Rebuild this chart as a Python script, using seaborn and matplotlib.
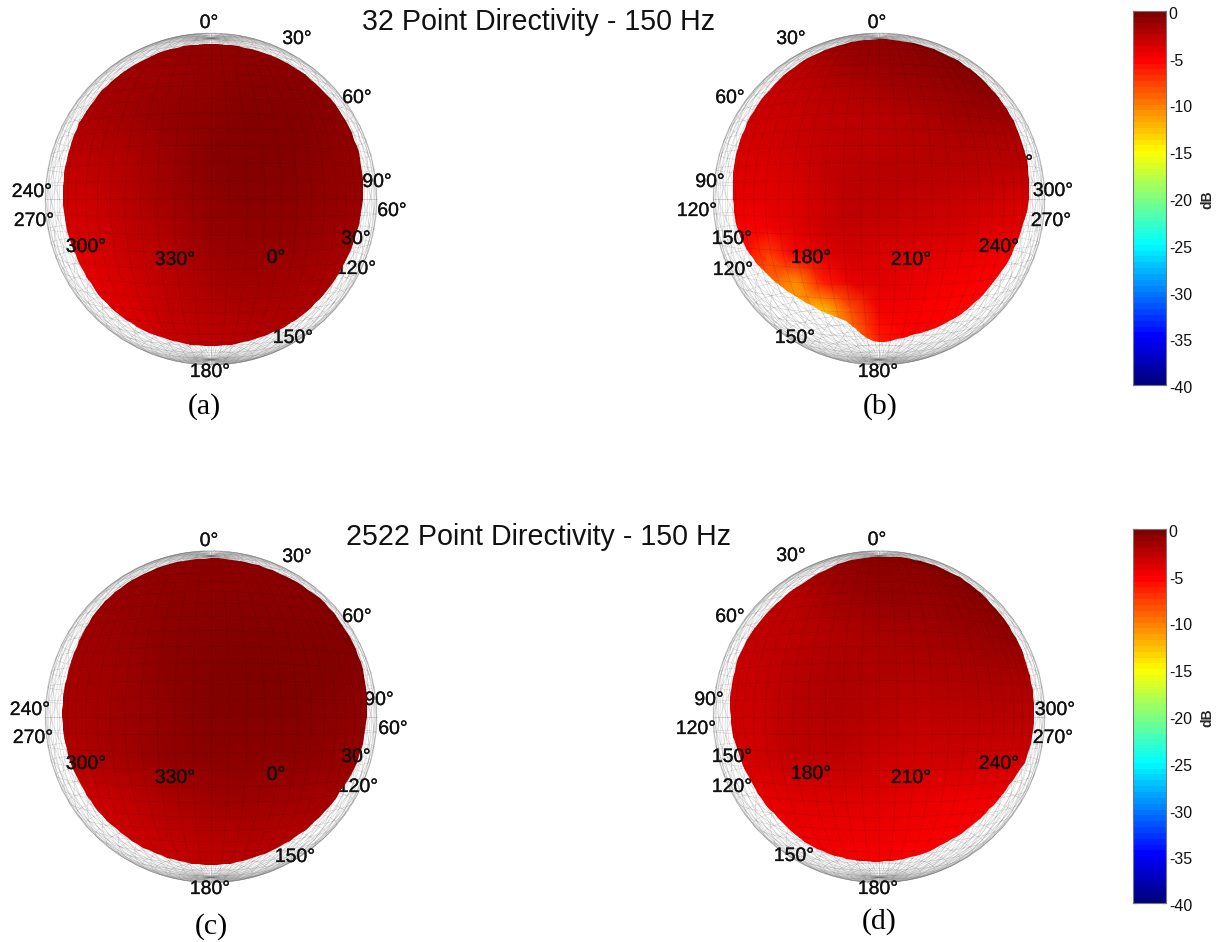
"""32 / 2522 point directivity balloons at 150 Hz, front and back views."""

import matplotlib
matplotlib.use("Agg")
import matplotlib.pyplot as plt
import matplotlib.patheffects as pe
from matplotlib.colors import LinearSegmentedColormap
from matplotlib.patches import Polygon
from matplotlib.transforms import ScaledTranslation
import numpy as np
import pandas as pd
import seaborn as sns

# balloon outline: radius as fraction of the wire sphere, every 15 deg clockwise from the top
outline_a = [.934, .935, .938, .940, .938, .930, .915, .900, .890, .890, .888, .885,
             .884, .885, .888, .888, .882, .885, .892, .900, .915, .925, .932, .934]
outline_b = [.962, .962, .958, .948, .936, .920, .902, .875, .859, .851, .849, .845,
             .862, .763, .759, .783, .825, .867, .878, .897, .916, .932, .946, .956]
outline_c = [.954, .955, .960, .968, .965, .955, .938, .925, .900, .890, .885, .890,
             .894, .890, .888, .885, .885, .890, .896, .900, .915, .940, .950, .953]
outline_d = [.964, .970, .970, .958, .952, .942, .934, .925, .880, .865, .860, .867,
             .873, .878, .877, .862, .862, .875, .894, .910, .920, .920, .925, .950]

# level in dB over the view, top row first
db_a = [[-1.5, -1.5, -1.2, -1.0, -0.8, -0.8, -0.7, -0.7, -0.7],
        [-1.6, -1.6, -1.4, -1.1, -0.8, -0.6, -0.6, -0.6, -0.7],
        [-1.9, -1.8, -1.4, -0.9, -0.5, -0.3, -0.3, -0.5, -0.8],
        [-2.6, -2.5, -1.9, -1.1, -0.4, -0.2, -0.3, -0.7, -1.0],
        [-3.1, -3.0, -2.3, -1.4, -0.7, -0.4, -0.6, -0.9, -1.2],
        [-3.7, -3.5, -2.8, -1.9, -1.0, -0.8, -0.9, -1.3, -1.6],
        [-4.4, -4.2, -3.4, -2.4, -1.6, -1.4, -1.5, -1.8, -2.0],
        [-4.5, -4.4, -3.8, -2.8, -2.2, -1.9, -2.0, -2.2, -2.3],
        [-4.5, -4.4, -3.9, -3.0, -2.5, -2.3, -2.3, -2.4, -2.4]]
db_b = [[-3.0, -3.0, -2.6, -2.2, -1.6, -1.0, -0.8, -0.6, -0.5, -0.4, -0.3, -0.3, -0.3],
        [-3.0, -3.0, -2.8, -2.4, -1.8, -1.2, -1.0, -0.8, -0.6, -0.3, -0.2, -0.3, -0.3],
        [-3.2, -3.2, -2.9, -2.7, -2.3, -2.0, -1.7, -1.4, -1.2, -0.9, -0.6, -0.7, -0.7],
        [-3.2, -3.2, -3.1, -2.9, -2.6, -2.4, -2.3, -2.1, -1.7, -1.4, -1.2, -1.2, -1.2],
        [-3.3, -3.3, -3.3, -3.1, -2.7, -2.5, -2.4, -2.3, -2.1, -2.0, -1.9, -1.9, -1.9],
        [-3.6, -3.6, -3.6, -3.3, -2.8, -2.5, -2.3, -2.2, -2.2, -2.3, -2.4, -2.5, -2.5],
        [-4.1, -4.1, -4.0, -3.6, -3.0, -2.5, -2.4, -2.6, -2.7, -2.9, -3.1, -3.3, -3.3],
        [-4.7, -4.7, -4.5, -3.9, -3.0, -2.8, -2.9, -3.0, -3.2, -3.4, -3.7, -3.9, -3.9],
        [-5.2, -5.2, -7.5, -4.8, -3.8, -3.4, -3.5, -3.6, -3.9, -4.1, -4.4, -4.6, -4.6],
        [-7.0, -7.0, -9.0, -10.5, -6.0, -4.2, -3.9, -4.2, -4.5, -4.8, -5.0, -5.0, -5.0],
        [-9.0, -9.0, -10.0, -11.0, -12.5, -8.0, -4.6, -4.6, -5.0, -5.2, -5.2, -5.2, -5.2],
        [-10.0, -10.0, -10.0, -11.0, -12.0, -10.0, -6.0, -5.0, -5.0, -5.2, -5.2, -5.2, -5.2],
        [-10.0, -10.0, -10.0, -11.0, -12.0, -10.0, -6.0, -5.0, -5.0, -5.2, -5.2, -5.2, -5.2]]
db_c = [[-1.0, -1.0, -0.9, -0.8, -0.7, -0.7, -0.7, -0.7, -0.7],
        [-1.2, -1.1, -1.0, -0.7, -0.6, -0.6, -0.5, -0.5, -0.6],
        [-1.4, -1.3, -1.0, -0.5, -0.4, -0.3, -0.3, -0.3, -0.5],
        [-1.6, -1.5, -1.1, -0.6, -0.3, -0.1, -0.1, -0.3, -0.5],
        [-1.8, -1.6, -1.2, -0.7, -0.3, -0.2, -0.3, -0.6, -0.8],
        [-2.2, -2.0, -1.5, -0.9, -0.6, -0.5, -0.6, -0.9, -1.2],
        [-3.4, -3.2, -2.6, -1.8, -1.3, -1.2, -1.4, -1.6, -1.7],
        [-3.6, -3.5, -3.2, -2.7, -2.3, -2.1, -2.2, -2.3, -2.3],
        [-3.6, -3.6, -3.4, -3.0, -2.6, -2.4, -2.3, -2.3, -2.3]]
db_d = [[-1.8, -1.8, -1.4, -0.9, -0.6, -0.6, -0.4, -0.3, -0.3],
        [-2.6, -2.6, -2.2, -1.4, -0.9, -0.8, -0.5, -0.3, -0.3],
        [-2.9, -2.8, -2.5, -1.9, -1.6, -1.5, -1.2, -0.9, -0.8],
        [-3.0, -2.9, -2.3, -1.8, -2.0, -2.0, -1.8, -1.7, -1.6],
        [-3.2, -3.0, -2.2, -1.9, -2.2, -2.6, -2.4, -2.2, -2.2],
        [-3.5, -3.3, -2.6, -2.5, -2.9, -3.2, -3.1, -3.2, -3.2],
        [-4.4, -4.3, -3.9, -3.7, -3.9, -4.2, -4.5, -4.4, -4.4],
        [-4.7, -4.6, -4.5, -4.4, -4.5, -4.8, -5.0, -4.9, -4.9],
        [-4.7, -4.7, -4.6, -4.6, -4.7, -5.0, -5.0, -5.0, -5.0]]

# angle labels: text, x, y in pixels, and whether the balloon covers it
labels_a = [("0°", 209, 22, 0), ("30°", 297, 38, 0), ("60°", 357, 97, 0), ("210°", 223, 165, 1),
            ("240°", 32, 191, 0), ("270°", 34, 220, 0), ("90°", 377, 181, 1), ("60°", 392, 210, 0),
            ("300°", 86, 246, 0), ("330°", 175, 259, 0), ("0°", 276, 257, 0), ("30°", 356, 238, 0),
            ("120°", 356, 268, 1), ("150°", 293, 337, 0), ("180°", 210, 371, 0)]
labels_b = [("0°", 877, 22, 0), ("30°", 791, 38, 0), ("60°", 730, 97, 0), ("90°", 710, 181, 0),
            ("120°", 697, 210, 0), ("150°", 732, 238, 0), ("120°", 733, 269, 0), ("180°", 811, 257, 0),
            ("210°", 911, 259, 0), ("240°", 999, 246, 0), ("300°", 1053, 190, 0), ("270°", 1051, 220, 0),
            ("150°", 795, 337, 0), ("180°", 878, 371, 0), ("330°", 1013, 162, 1)]
labels_c = [("0°", 209, 540, 0), ("30°", 297, 556, 0), ("60°", 357, 616, 0), ("210°", 223, 684, 1),
            ("240°", 30, 709, 0), ("270°", 33, 737, 0), ("90°", 379, 699, 1), ("60°", 393, 728, 0),
            ("300°", 86, 763, 0), ("330°", 175, 777, 0), ("0°", 276, 774, 0), ("30°", 356, 756, 0),
            ("120°", 358, 786, 1), ("150°", 295, 856, 0), ("180°", 210, 888, 0)]
labels_d = [("0°", 877, 539, 0), ("30°", 791, 555, 0), ("60°", 730, 616, 0), ("90°", 709, 699, 0),
            ("120°", 696, 728, 0), ("150°", 732, 756, 0), ("120°", 732, 786, 0), ("180°", 811, 773, 0),
            ("210°", 911, 777, 0), ("240°", 999, 763, 0), ("300°", 1055, 709, 0), ("270°", 1053, 737, 0),
            ("150°", 794, 855, 0), ("180°", 878, 888, 0)]

titles = ["32 Point Directivity - 150 Hz", "2522 Point Directivity - 150 Hz"]
captions = ["(a)", "(b)", "(c)", "(d)"]
cbar_ticks = [0, -5, -10, -15, -20, -25, -30, -35, -40]
grid_lat = np.arange(-85, 90, 5)
grid_lon = np.arange(0, 360, 5)

W, H = 1221, 942
R = 166
CAM = 4.0  # camera distance in sphere radii, the view is a close perspective one

# jet as matlab has it, red full at -5 dB and yellow at -15 dB
JET_STOPS = [(0.0, (0, 0, .5)), (.125, (0, 0, 1)), (.375, (0, 1, 1)),
             (.625, (1, 1, 0)), (.875, (1, 0, 0)), (1.0, (.5, 0, 0))]
jet_smooth = LinearSegmentedColormap.from_list("jet_m", JET_STOPS, N=256)
jet_64 = LinearSegmentedColormap.from_list("jet_m64", JET_STOPS, N=64)

sns.set_theme(style="white")
plt.rcParams["font.family"] = ["Liberation Sans", "DejaVu Sans"]


def project(lat, lon):
    # returns x, y (y up) with the silhouette at radius 1
    lat, lon = np.radians(lat), np.radians(lon)
    xs = np.cos(lat) * np.sin(lon)
    ys = np.sin(lat)
    zs = np.cos(lat) * np.cos(lon)
    k = np.sqrt(CAM ** 2 - 1) / (CAM - zs)
    return xs * k, ys * k


def graticule(front_only=False):
    rows = []
    n = 0
    t = np.linspace(-78, 78, 61) if front_only else np.linspace(-90, 90, 61)
    for lon in grid_lon:
        if front_only and not (lon <= 90 or lon >= 270):
            continue
        x, y = project(t, lon)
        rows.append(pd.DataFrame({"x": x, "y": y, "line": n}))
        n += 1
    t = np.linspace(-90, 90, 61) if front_only else np.linspace(0, 360, 121)
    for lat in grid_lat:
        # on the balloon the rings near the poles would only pile up along the edge
        if front_only and abs(lat) > 75:
            continue
        x, y = project(lat, t)
        rows.append(pd.DataFrame({"x": x, "y": y, "line": n}))
        n += 1
    if not front_only:
        # the wire sphere is triangulated, add the cell diagonals
        t = np.linspace(-85, 85, 35)
        for lon in np.arange(0, 360, 10):
            x, y = project(t, lon + t)
            rows.append(pd.DataFrame({"x": x, "y": y, "line": n}))
            n += 1
    return pd.concat(rows, ignore_index=True)


def smooth_outline(outline, steps=6):
    # periodic hermite through the table, flat at turning points so the cusp does not overshoot
    r = np.asarray(outline)
    d = np.roll(r, -1) - r
    m = 0.5 * (d + np.roll(d, 1))
    m[d * np.roll(d, 1) <= 0] = 0
    out = []
    for i in range(len(r)):
        j = (i + 1) % len(r)
        for s in np.linspace(0, 1, steps, endpoint=False):
            out.append((2 * s ** 3 - 3 * s ** 2 + 1) * r[i] + (s ** 3 - 2 * s ** 2 + s) * m[i]
                       + (-2 * s ** 3 + 3 * s ** 2) * r[j] + (s ** 3 - s ** 2) * m[j])
    return np.array(out)


def draw_balloon(ax, cx, cy, outline, db, labels):
    # wire sphere, front and back
    wire = graticule()
    wire = wire.assign(x=cx + R * wire["x"], y=cy - R * wire["y"])
    sns.lineplot(data=wire, x="x", y="y", units="line", estimator=None, sort=False,
                 color="#707070", alpha=0.3, lw=0.4, ax=ax, zorder=1)

    for text, x, y, covered in labels:
        ax.text(x, y + 1.5, text, ha="center", va="center", fontsize=14, color="#111111",
                zorder=2 if covered else 6,
                path_effects=[pe.withStroke(linewidth=0.2, foreground="#111111")])

    out = smooth_outline(outline)
    ang = np.radians(np.linspace(0, 360, len(out), endpoint=False))
    poly = Polygon(np.column_stack([cx + R * out * np.sin(ang), cy - R * out * np.cos(ang)]),
                   closed=True, transform=ax.transData, fc="none", ec="none")
    ax.add_patch(poly)

    db = np.asarray(db)
    nx = db.shape[1]
    gx, gy = np.meshgrid(cx + R * np.linspace(-1, 1, nx), cy + R * np.linspace(-1, 1, nx))
    mesh = ax.pcolormesh(gx, gy, db, cmap=jet_smooth, vmin=-40, vmax=0, shading="gouraud", zorder=3)
    mesh.set_clip_path(poly)

    before = len(ax.lines)
    grid = graticule(front_only=True)
    grid = grid.assign(x=cx + 0.98 * R * grid["x"], y=cy - 0.98 * R * grid["y"])
    sns.lineplot(data=grid, x="x", y="y", units="line", estimator=None, sort=False,
                 color="black", alpha=0.11, lw=0.6, ax=ax, zorder=4)
    for line in ax.lines[before:]:
        line.set_clip_path(poly)


def draw_colorbar(fig, top, bottom):
    cax = fig.add_axes([1133 / W, 1 - bottom / H, 33 / W, (bottom - top) / H])
    levels = np.linspace(0, -40, 64).reshape(-1, 1)
    sns.heatmap(levels, cmap=jet_64, vmin=-40, vmax=0, cbar=False, ax=cax,
                xticklabels=False, yticklabels=False)
    cax.set_yticks([-t / 40 * 64 for t in cbar_ticks])
    cax.set_yticklabels([str(t) for t in cbar_ticks], rotation=0, fontsize=11.5, color="#111111")
    cax.tick_params(axis="y", left=True, right=True, labelleft=False, labelright=True,
                    direction="in", length=3, width=0.8, color="#222222", pad=2)
    # the numbers sit a little under their ticks
    shift = ScaledTranslation(0, -2 / 100, fig.dpi_scale_trans)
    for lab in cax.get_yticklabels():
        lab.set_transform(lab.get_transform() + shift)
    for sp in cax.spines.values():
        sp.set_visible(True)
        sp.set_color("#777777")
        sp.set_linewidth(0.8)
    cax.set_xlabel("")
    cax.set_ylabel("")


def main():
    fig = plt.figure(figsize=(W / 100, H / 100), dpi=100)
    ax = fig.add_axes([0, 0, 1, 1])
    ax.set_xlim(0, W)
    ax.set_ylim(H, 0)
    ax.axis("off")

    draw_balloon(ax, 211, 199, outline_a, db_a, labels_a)
    draw_balloon(ax, 879, 199, outline_b, db_b, labels_b)
    draw_balloon(ax, 211, 716.7, outline_c, db_c, labels_c)
    draw_balloon(ax, 879, 716.7, outline_d, db_d, labels_d)
    ax.set_xlim(0, W)
    ax.set_ylim(H, 0)
    ax.set_xlabel("")
    ax.set_ylabel("")

    ax.text(538, 22, titles[0], ha="center", va="center", fontsize=20.6, color="#111111", zorder=7)
    ax.text(538, 537, titles[1], ha="center", va="center", fontsize=20.6, color="#111111", zorder=7)

    for text, x, y in zip(captions, [204, 880, 211, 879], [407, 407, 927, 922]):
        ax.text(x, y, text, ha="center", va="center", fontsize=21.5,
                family="Liberation Serif", color="black")

    draw_colorbar(fig, 11, 385)
    draw_colorbar(fig, 529, 903)
    ax.text(1207, 200, "dB", rotation=90, ha="center", va="center", fontsize=10, fontweight="bold")
    ax.text(1207, 718, "dB", rotation=90, ha="center", va="center", fontsize=10, fontweight="bold")

    fig.savefig("out.png", dpi=100)
    plt.close(fig)


if __name__ == "__main__":
    main()
